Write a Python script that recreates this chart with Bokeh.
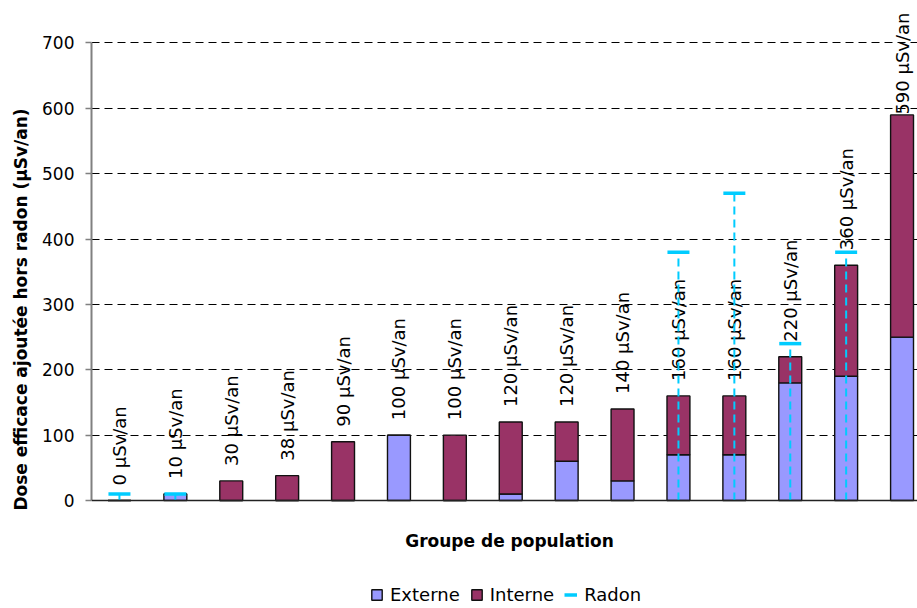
import math
from bokeh.plotting import figure
from bokeh.models import (ColumnDataSource, Range1d, FixedTicker, Legend, LegendItem,
                          Span, Label)
from bokeh.core.properties import value
from bokeh.embed import file_html
from bokeh.resources import INLINE

# ---- data ----
groups = ["G1", "G2", "G3", "G4", "G5", "G6", "G7", "G8", "G9", "G10",
          "G11", "G12", "G13", "G14", "G15"]
externe = [0, 10, 0, 0, 0, 100, 0, 10, 60, 30, 70, 70, 180, 190, 250]
interne = [0, 0, 30, 38, 90, 0, 100, 110, 60, 110, 90, 90, 40, 170, 340]
radon = [10, 10, None, None, None, None, None, None, None, None,
         380, 470, 240, 380, None]
y_ticks = [0, 100, 200, 300, 400, 500, 600, 700]
unit = "µSv/an"
x_title = "Groupe de population"
y_title = "Dose efficace ajoutée hors radon (µSv/an)"

FONT = "DejaVu Sans"
C_EXT = "#9999FF"
C_INT = "#993366"
C_RAD = "#00CCFF"

n = len(groups)
xs = list(range(1, n + 1))
totals = [e + i for e, i in zip(externe, interne)]
labels = [f"{t:g} {unit}" for t in totals]

# ---- layout ----
W, H = 917, 608
ML, MT = 91, 10
frame_w = W - ML
frame_h = H - MT
cat_px = 55.9
ppu = 0.6536            # pixels per y unit
zero_from_top = 490     # y=0 position below frame top (px)
y_end = zero_from_top / ppu
y_start = -(frame_h - zero_from_top) / ppu
x_end = 0.5 + frame_w / cat_px

p = figure(width=W, height=H, output_backend="svg", toolbar_location=None,
           x_range=Range1d(0.5, x_end), y_range=Range1d(y_start, y_end),
           min_border_left=ML, min_border_right=0, min_border_top=MT,
           min_border_bottom=0)
p.outline_line_color = None
p.background_fill_color = "white"
p.border_fill_color = "white"

p.xaxis.visible = False
p.xgrid.visible = False

p.yaxis.ticker = FixedTicker(ticks=y_ticks)
p.yaxis.bounds = (y_ticks[0], y_ticks[-1])
p.yaxis.minor_tick_out = 0
p.yaxis.minor_tick_in = 0
p.yaxis.major_tick_in = 0
p.yaxis.major_tick_out = 6
p.yaxis.major_tick_line_color = "#808080"
p.yaxis.major_tick_line_width = 1.5
p.yaxis.axis_line_color = "#808080"
p.yaxis.axis_line_width = 2
p.yaxis.major_label_text_font = FONT
p.yaxis.major_label_text_font_size = "17px"
p.yaxis.major_label_text_color = "black"
p.yaxis.major_label_standoff = 11
p.yaxis.axis_label = y_title
p.yaxis.axis_label_text_font = FONT
p.yaxis.axis_label_text_font_size = "17px"
p.yaxis.axis_label_text_font_style = "bold"
p.yaxis.axis_label_text_color = "black"
p.yaxis.axis_label_standoff = 8

p.ygrid.ticker = FixedTicker(ticks=y_ticks[1:])
p.ygrid.grid_line_color = "black"
p.ygrid.grid_line_dash = "8 5"
p.ygrid.grid_line_width = 1

# x axis line at zero
p.add_layout(Span(location=0, dimension="width", line_color="#222222", line_width=1.5))

# bars
src = ColumnDataSource(dict(x=xs, ext=externe, int_=interne, tot=totals))
r_ext = p.vbar(x="x", bottom=0, top="ext", width=0.41, source=src,
               fill_color=C_EXT, line_color="#111111", line_width=1.4)
r_int = p.vbar(x="x", bottom="ext", top="tot", width=0.41, source=src,
               fill_color=C_INT, line_color="#111111", line_width=1.4)

# data labels (rotated), clamped to stay within the top of the plot
lab_y, lab_align, lab_off = [], [], []
for t, s in zip(totals, labels):
    est_len = len(s) * 0.567 * 18
    if t * ppu + 15 + est_len > zero_from_top - 2:
        lab_y.append(y_end)
        lab_align.append("right")
        lab_off.append(2)
    else:
        lab_y.append(t)
        lab_align.append("left")
        lab_off.append(-15)
lsrc = ColumnDataSource(dict(x=xs, y=lab_y, text=labels, align=lab_align, off=lab_off))
p.text(x="x", y="y", text="text", source=lsrc, angle=math.pi / 2,
       text_align="align", text_baseline="middle", y_offset="off",
       text_font=value(FONT), text_font_size="18px", text_color="black")

# radon
rx = [x for x, r in zip(xs, radon) if r is not None]
ry = [r for r in radon if r is not None]
rsrc = ColumnDataSource(dict(x=rx, y=ry))
p.segment(x0="x", y0=0, x1="x", y1="y", source=rsrc, line_color=C_RAD,
          line_width=2, line_dash="8 5")
p.scatter(x="x", y="y", source=rsrc, marker="dash", size=22,
          line_color=C_RAD, line_width=3.5)
r_rad = p.line(x=[float("nan")], y=[float("nan")], line_color=C_RAD, line_width=3.5)

# x axis title
p.add_layout(Label(x=(0.5 + x_end) / 2, y=-40 / ppu, x_offset=5, text=x_title,
                   text_align="center", text_baseline="middle",
                   text_font=FONT, text_font_size="17px", text_font_style="bold",
                   text_color="black"))

legend = Legend(items=[LegendItem(label="Externe", renderers=[r_ext]),
                       LegendItem(label="Interne", renderers=[r_int]),
                       LegendItem(label="Radon", renderers=[r_rad])],
                orientation="horizontal", location=(279, 3))
legend.label_text_font = FONT
legend.label_text_font_size = "18px"
legend.label_text_color = "black"
legend.label_height = 18
legend.glyph_width = 13
legend.glyph_height = 13
legend.label_standoff = 7
legend.spacing = 10
legend.padding = 0
legend.margin = 0
legend.border_line_color = None
legend.background_fill_alpha = 0
p.add_layout(legend)

open("out.html", "w").write(file_html(p, INLINE))
